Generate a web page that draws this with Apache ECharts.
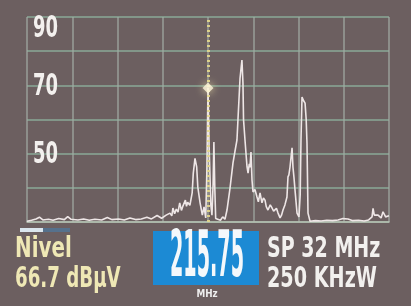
<!DOCTYPE html>
<html>
<head>
<meta charset="utf-8">
<script src="https://cdn.jsdelivr.net/npm/echarts@6/dist/echarts.min.js"></script>
<style>
  html, body { margin: 0; padding: 0; background: #6c5f60; }
  #chart { width: 411px; height: 306px; }
</style>
</head>
<body>
<div id="chart"></div>
<script>
// 频谱：横轴为相对起点的频偏 (MHz)，跨度 32 MHz，中心 215.75 MHz
const spanMHz = 32
const centerOffset = 16
const levelTicks = [90, 70, 50]

// 频谱轨迹 [频偏 MHz, 电平 dBµV]
const traceOffsets = [
  0, 0.4, 0.8, 1.1, 1.4, 1.9, 2.3, 2.8, 3.3, 3.6, 3.9, 4.5, 5.0, 5.5, 6.0, 6.6, 7.1, 7.5, 8.1, 8.6,
  9.1, 9.6, 10.1, 10.6, 11.0, 11.5, 11.9, 12.3, 12.64, 12.8, 12.9, 13.05, 13.2, 13.35, 13.5, 13.65, 13.8, 14.0, 14.1, 14.2,
  14.4, 14.6, 14.7, 14.85, 15.0, 15.1, 15.3, 15.5, 15.65, 15.8, 15.9, 16.0, 16.1, 16.25, 16.35, 16.45, 16.52, 16.6, 16.68, 16.8,
  17.1, 17.3, 17.5, 17.68, 17.95, 18.21, 18.4, 18.56, 18.65, 18.83, 19.0, 19.09, 19.14, 19.27, 19.45, 19.54, 19.65, 19.71, 19.8, 19.89,
  19.98, 20.15, 20.33, 20.45, 20.6, 20.77, 20.9, 21.04, 21.15, 21.3, 21.5, 21.66, 21.8, 21.92, 22.05, 22.19, 22.37, 22.5, 22.63, 22.8,
  22.98, 23.07, 23.15, 23.25, 23.43, 23.51, 23.6, 23.69, 23.87, 24.04, 24.15, 24.22, 24.31, 24.45, 24.58, 24.68, 24.75, 24.84, 25.02, 25.5,
  26.0, 26.5, 27.0, 27.5, 27.93, 28.38, 28.8, 29.3, 29.8, 30.2, 30.5, 30.59, 30.7, 31.03, 31.3, 31.47, 31.7, 32
]
const traceLevels = [
  30.2, 30.5, 30.9, 31.4, 30.6, 30.8, 30.5, 31.0, 30.7, 31.6, 30.8, 30.6, 30.9, 30.5, 30.8, 30.6, 31.3, 30.7, 30.9, 30.6,
  31.2, 30.7, 30.9, 31.4, 30.9, 31.9, 31.1, 32.0, 32.6, 31.8, 34.1, 32.4, 33.8, 32.9, 35.6, 33.4, 34.8, 36.4, 34.6, 35.8,
  34.9, 38.5, 44.3, 48.6, 46.1, 40.2, 35.6, 32.0, 34.4, 31.2, 45.0, 69.2, 52.0, 35.0, 32.0, 41.0, 53.4, 40.0, 31.0, 31.0,
  30.5, 31.5, 30.8, 33.5, 40.0, 47.3, 51.0, 54.0, 60.0, 72.0, 77.4, 70.7, 60.0, 54.0, 46.1, 44.3, 47.0, 46.0, 50.5, 42.3,
  38.8, 39.5, 37.3, 35.9, 38.5, 35.6, 37.0, 36.4, 34.5, 33.5, 35.0, 34.1, 33.2, 32.9, 34.0, 32.6, 31.2, 32.0, 33.5, 35.0,
  37.3, 43.2, 43.8, 46.1, 51.7, 46.1, 43.0, 39.4, 32.6, 31.5, 38.0, 54.0, 66.6, 65.5, 64.8, 60.0, 53.1, 32.6, 30.2, 30.4,
  30.3, 30.5, 30.4, 30.6, 31.0, 30.9, 30.4, 30.5, 30.3, 30.6, 31.5, 34.0, 32.0, 32.0, 31.2, 33.0, 31.5, 31.8
]
// 标记点
const markerOffset = 16
const markerLevel = 69.2

const chart = echarts.init(document.getElementById('chart'))

const bigFont = 'bold 28px "DejaVu Sans"'

const option = {
  backgroundColor: '#6c5f60',
  animation: false,
  grid: { left: 27, right: 22, top: 17, bottom: 84 },
  xAxis: {
    type: 'value',
    min: 0,
    max: spanMHz,
    interval: 4,
    axisLabel: { show: false },
    axisTick: { show: false },
    axisLine: { show: true, lineStyle: { color: '#b9c2b4', width: 1.5 } },
    splitLine: { show: true, lineStyle: { color: '#a1aaa2', width: 1.5, opacity: 0.85 } }
  },
  yAxis: {
    type: 'value',
    min: 30,
    max: 90,
    interval: 10,
    axisTick: { show: false },
    axisLine: { show: false },
    axisLabel: { show: false },
    splitLine: { show: true, lineStyle: { color: '#8fb6a1', width: 1.5, opacity: 0.85 } }
  },
  series: [
    {
      type: 'line',
      data: traceOffsets.map((x, i) => [x, traceLevels[i]]),
      showSymbol: false,
      lineStyle: { color: '#eee6e6', width: 1.6 },
      markLine: {
        silent: true,
        symbol: 'none',
        label: { show: false },
        lineStyle: { color: '#e4d88c', width: 3, type: [2, 3], opacity: 0.9 },
        data: [{ xAxis: centerOffset }]
      },
      z: 3
    },
    {
      type: 'scatter',
      data: [[markerOffset, markerLevel]],
      symbol: 'diamond',
      symbolSize: 11,
      itemStyle: { color: '#fff8dc', shadowBlur: 8, shadowColor: '#fff0b0' },
      z: 5
    }
  ]
}

chart.setOption(option)

// 纵轴刻度文字：窄体字，按坐标轴换算位置（90 在顶线下方）
const tickTexts = levelTicks.map(v => {
  const y = chart.convertToPixel({ yAxisIndex: 0 }, v)
  return {
    type: 'text', x: 33, y: y + (v === 90 ? 12 : 2), scaleX: 0.6,
    style: { text: String(v), font: 'bold 30px "DejaVu Sans"', fill: '#f3f0ee', verticalAlign: 'middle' }
  }
})

chart.setOption({
  graphic: tickTexts.concat([
    // 电平标题上方的小条
    { type: 'rect', shape: { x: 20, y: 228, width: 23, height: 4 }, style: { fill: '#dbe6ee' } },
    { type: 'rect', shape: { x: 43, y: 228, width: 27, height: 4 }, style: { fill: '#56718c' } },
    { type: 'text', x: 15, y: 250, scaleX: 0.71, style: { text: 'Nivel', font: bigFont, fill: '#efe8b5', verticalAlign: 'middle' } },
    { type: 'text', x: 15, y: 280, scaleX: 0.65, style: { text: '66.7 dBµV', font: bigFont, fill: '#efe8b5', verticalAlign: 'middle' } },
    // 中心频率
    { type: 'rect', shape: { x: 153, y: 231, width: 106, height: 54 }, style: { fill: '#1c8ad4' } },
    { type: 'text', x: 207, y: 259, scaleX: 0.3, style: { text: '215.75', font: 'bold 64px "DejaVu Sans"', fill: '#f4f8fb', align: 'center', verticalAlign: 'middle' } },
    { type: 'text', x: 207, y: 294, scaleX: 0.8, style: { text: 'MHz', font: 'bold 11px "DejaVu Sans"', fill: '#eeeeee', align: 'center', verticalAlign: 'middle' } },
    { type: 'text', x: 267, y: 250, scaleX: 0.68, style: { text: 'SP 32 MHz', font: bigFont, fill: '#f2f0ee', verticalAlign: 'middle' } },
    { type: 'text', x: 267, y: 280, scaleX: 0.685, style: { text: '250 KHzW', font: bigFont, fill: '#f2f0ee', verticalAlign: 'middle' } }
  ])
})
</script>
</body>
</html>
